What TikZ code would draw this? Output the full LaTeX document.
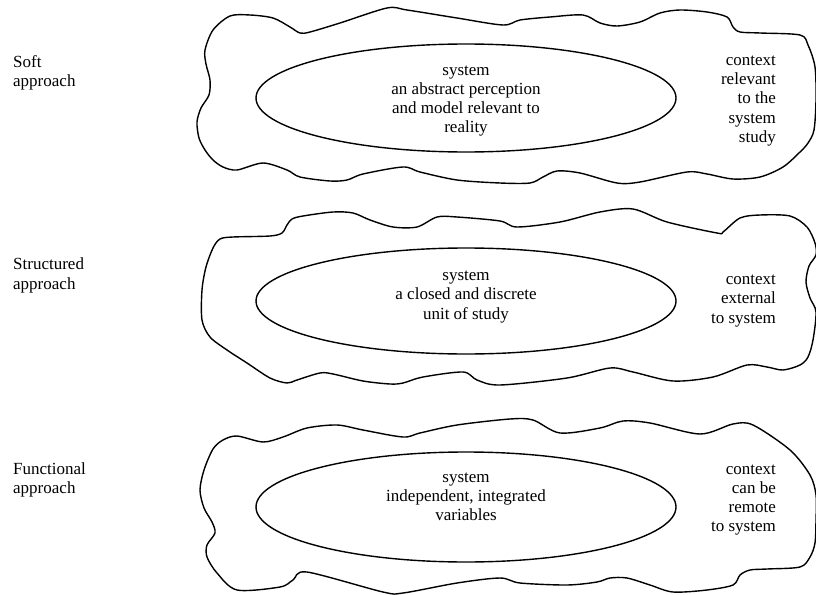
\documentclass[tikz,border=0pt]{standalone}
\usepackage{fontspec}
\setmainfont{Liberation Serif}
\begin{document}
\begin{tikzpicture}[x=1pt,y=-1pt,
  outline/.style={draw=black, line width=1.4pt, line join=round},
  sysellipse/.style={draw=black, line width=1.4pt},
  txt/.style={font=\fontsize{17}{19.2}\selectfont, inner sep=0pt},
  midtxt/.style={txt, align=center},
  ctxtxt/.style={txt, align=right, anchor=east},
  sidetxt/.style={txt, align=left, anchor=north west}]
\useasboundingbox (0,0) rectangle (816,594);
\fill[white] (0,0) rectangle (816,594);

% ---------- Soft approach ----------
\draw[outline] plot[smooth cycle, tension=0.5] coordinates {
  (205,50) (213,30) (230,16) (250,15) (273,18) (290,27) (300,33) (310,32)
  (340,23) (387,8) (407,10) (457,18) (503,25) (520,20) (550,17) (583,15)
  (600,23) (617,26) (640,22) (660,13) (680,10) (707,12) (727,17) (733,27)
  (740,32) (760,33) (800,35) (808,45) (815,67) (816,100) (814,130) (808,143)
  (800,152) (783,167) (760,177) (733,179) (707,174) (687,172) (640,182)
  (617,183) (580,173) (557,171) (543,177) (530,183) (500,183) (457,180)
  (420,172) (403,167) (363,174) (347,180) (330,181) (300,177) (287,170)
  (263,163) (237,170) (223,167) (213,160) (205,150) (199,138) (197,122)
  (201,108) (209,95) (210,80) (206,64)};
\draw[sysellipse] (466,98) ellipse [x radius=210, y radius=54];
\node[midtxt] (softsys) at (466,101) {system\\an abstract perception\\and model relevant to\\reality};
\node[ctxtxt] (softctx) at (776,101) {context\\relevant\\to the\\system\\study};
\node[sidetxt] (softlbl) at (13,55) {Soft\\approach};

% ---------- Structured approach ----------
\draw[outline] plot[smooth cycle, tension=0.5] coordinates {
  (220,239) (233,237) (270,236) (282,233) (287,225) (292,219) (303,216)
  (333,212) (353,213) (370,220) (393,227) (417,227) (437,217) (457,217)
  (500,221) (517,227) (560,222) (600,212) (633,209) (667,222) (717,233)
  (723,232) (740,218) (760,215) (790,216) (807,227) (815,243) (816,255)
  (809,266) (806,282) (810,298) (816,312) (813,340) (808,357) (800,365)
  (783,370) (767,367) (747,365) (713,377) (673,381) (633,372) (610,368)
  (567,378) (500,385) (477,380) (463,372) (423,377) (403,383) (390,384)
  (363,381) (333,374) (320,373) (297,380) (287,383) (270,378) (247,363)
  (227,350) (210,337) (202,320) (202,290) (206,267) (213,248)};
\draw[sysellipse] (466,301) ellipse [x radius=210, y radius=53];
\node[midtxt] (structsys) at (466,297) {system\\a closed and discrete\\unit of study};
\node[ctxtxt] (structctx) at (776,301) {context\\external\\to system};
\node[sidetxt] (structlbl) at (13,258) {Structured\\approach};

% ---------- Functional approach ----------
\draw[outline] plot[smooth cycle, tension=0.5] coordinates {
  (213,449) (223,440) (237,436) (263,442) (283,437) (307,428) (337,425)
  (363,430) (403,437) (420,433) (457,425) (510,419) (533,420) (560,433)
  (600,428) (623,421) (650,423) (700,434) (733,424) (753,425) (790,450)
  (810,475) (816,495) (816,520) (815,543) (810,557) (800,567) (767,569)
  (750,570) (740,575) (733,585) (707,590) (673,592) (650,585) (627,578)
  (610,578) (597,582) (567,585) (520,583) (500,578) (457,583) (403,593)
  (383,592) (307,572) (293,580) (280,587) (237,590) (217,573)
  (207,557) (207,545) (215,533) (212,522) (204,508) (200,490) (204,470)};
\draw[sysellipse] (466,507) ellipse [x radius=210, y radius=55];
\node[midtxt] (funcsys) at (466,497) {system\\independent, integrated\\variables};
\node[ctxtxt] (funcctx) at (776,500) {context\\can be\\remote\\to system};
\node[sidetxt] (funclbl) at (13,462) {Functional\\approach};
\end{tikzpicture}
\end{document}
